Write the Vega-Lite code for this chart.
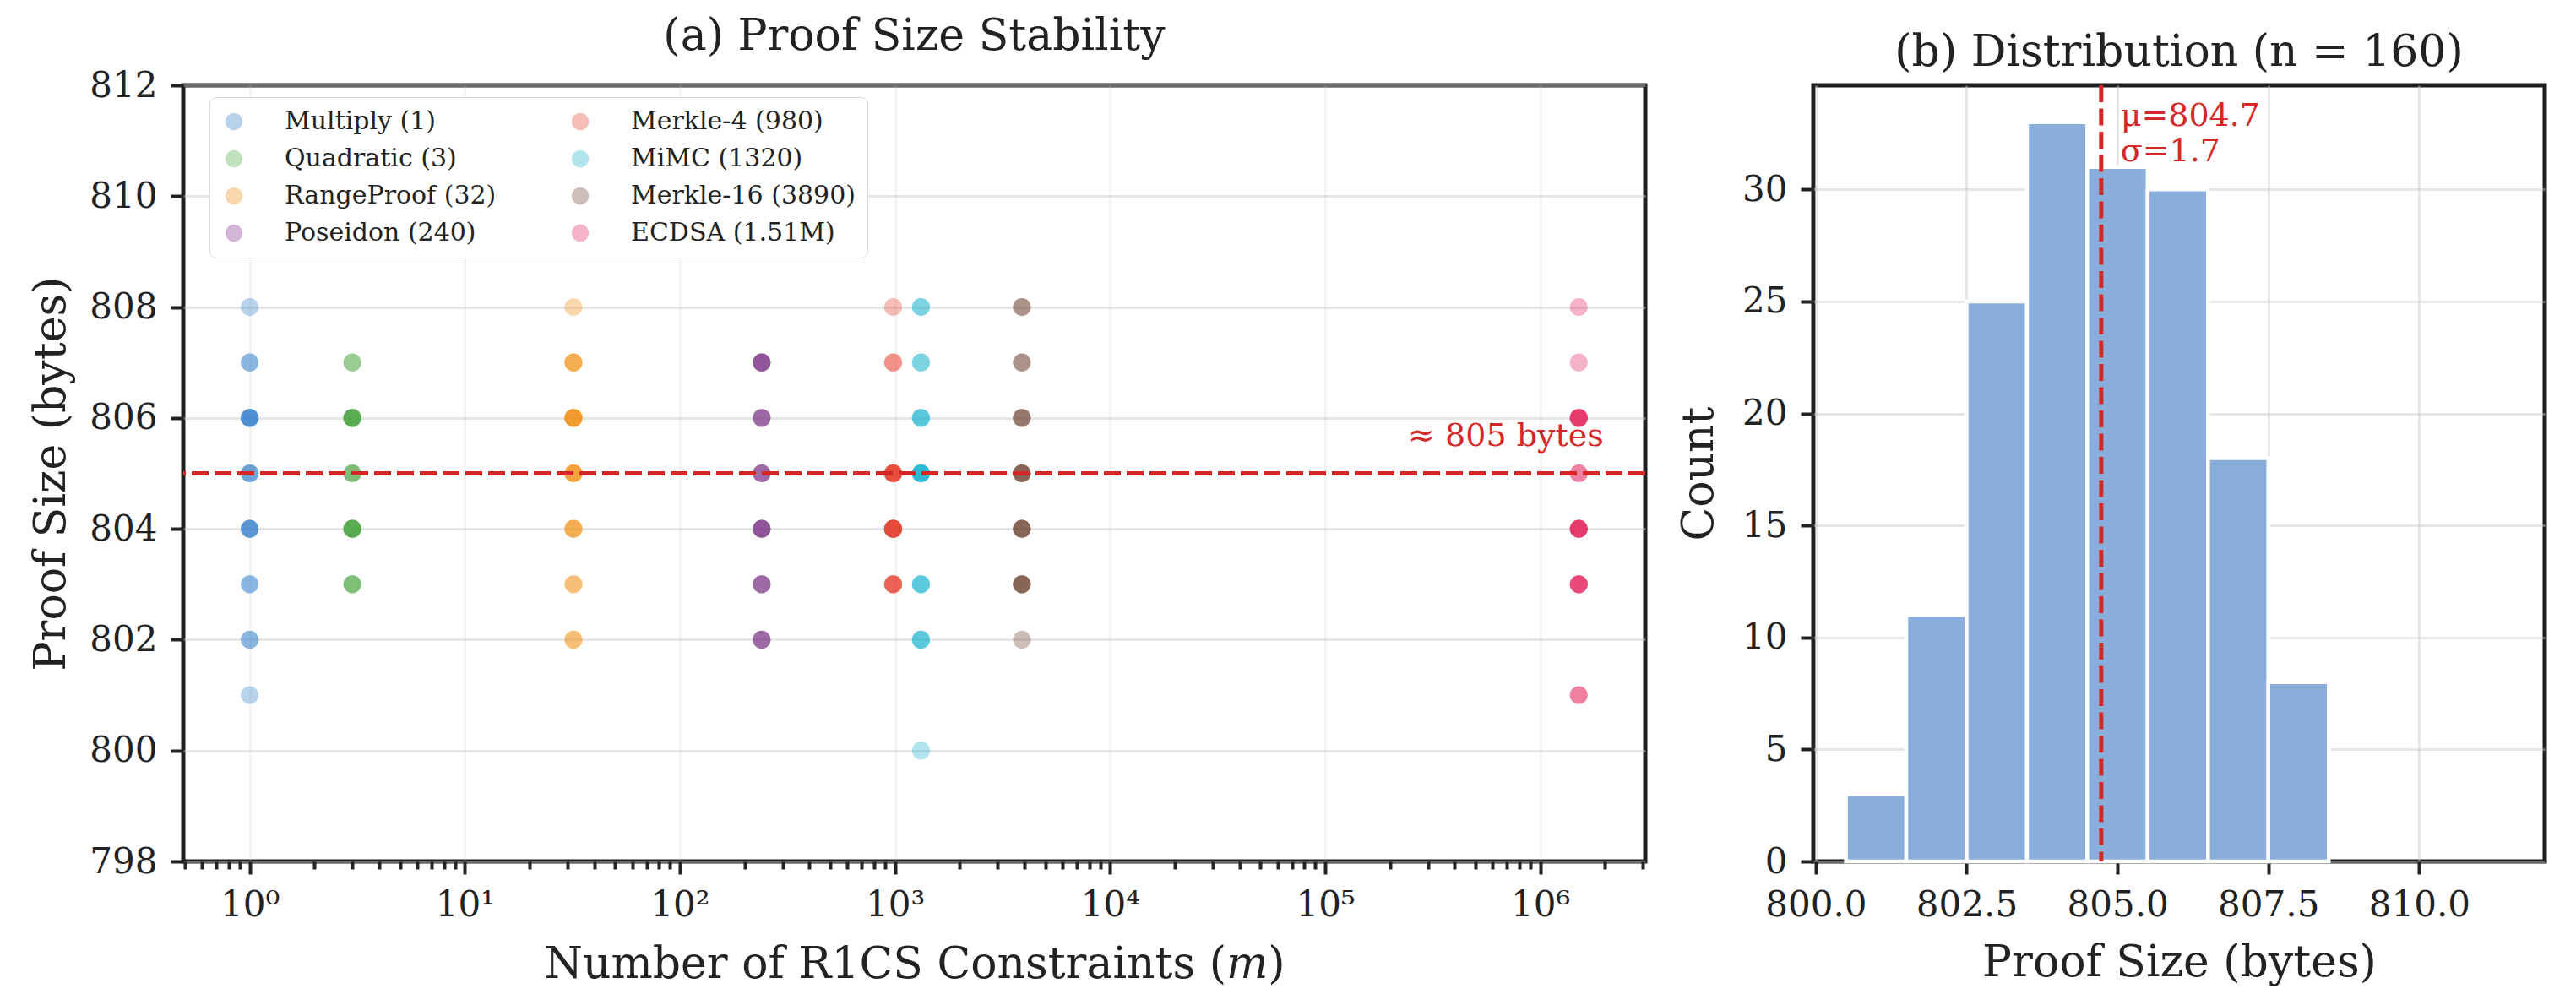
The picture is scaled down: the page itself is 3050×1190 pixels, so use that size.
{
  "$schema": "https://vega.github.io/schema/vega-lite/v6.json",
  "background": "white",
  "padding": {"left": 32, "top": 14, "right": 5, "bottom": 5},
  "config": {
    "font": "DejaVu Serif",
    "view": {"stroke": "#1f1f1f", "strokeWidth": 5},
    "axis": {
      "domain": false,
      "labelFontSize": 42,
      "labelColor": "#222222",
      "titleFontSize": 52,
      "titleFontWeight": "normal",
      "titleColor": "#222222",
      "tickColor": "#222222",
      "tickWidth": 4,
      "tickSize": 15,
      "labelPadding": 16,
      "gridColor": "#c8c8c8",
      "gridOpacity": 0.45,
      "gridWidth": 3,
      "zindex": 1
    },
    "title": {"fontSize": 52, "fontWeight": "normal", "color": "#222222", "offset": 10}
  },
  "resolve": {"legend": {"color": "independent"}},
  "spacing": 30,
  "hconcat": [
    {
      "width": 1731,
      "height": 919,
      "title": {"text": "(a) Proof Size Stability"},
      "data": {
        "values": [
          {"circuit": "Multiply (1)", "m": 1, "bytes": 808},
          {"circuit": "Multiply (1)", "m": 1, "bytes": 807},
          {"circuit": "Multiply (1)", "m": 1, "bytes": 807},
          {"circuit": "Multiply (1)", "m": 1, "bytes": 806},
          {"circuit": "Multiply (1)", "m": 1, "bytes": 806},
          {"circuit": "Multiply (1)", "m": 1, "bytes": 806},
          {"circuit": "Multiply (1)", "m": 1, "bytes": 806},
          {"circuit": "Multiply (1)", "m": 1, "bytes": 806},
          {"circuit": "Multiply (1)", "m": 1, "bytes": 805},
          {"circuit": "Multiply (1)", "m": 1, "bytes": 805},
          {"circuit": "Multiply (1)", "m": 1, "bytes": 805},
          {"circuit": "Multiply (1)", "m": 1, "bytes": 804},
          {"circuit": "Multiply (1)", "m": 1, "bytes": 804},
          {"circuit": "Multiply (1)", "m": 1, "bytes": 804},
          {"circuit": "Multiply (1)", "m": 1, "bytes": 804},
          {"circuit": "Multiply (1)", "m": 1, "bytes": 803},
          {"circuit": "Multiply (1)", "m": 1, "bytes": 803},
          {"circuit": "Multiply (1)", "m": 1, "bytes": 802},
          {"circuit": "Multiply (1)", "m": 1, "bytes": 802},
          {"circuit": "Multiply (1)", "m": 1, "bytes": 801},
          {"circuit": "Quadratic (3)", "m": 3, "bytes": 807},
          {"circuit": "Quadratic (3)", "m": 3, "bytes": 807},
          {"circuit": "Quadratic (3)", "m": 3, "bytes": 806},
          {"circuit": "Quadratic (3)", "m": 3, "bytes": 806},
          {"circuit": "Quadratic (3)", "m": 3, "bytes": 806},
          {"circuit": "Quadratic (3)", "m": 3, "bytes": 806},
          {"circuit": "Quadratic (3)", "m": 3, "bytes": 806},
          {"circuit": "Quadratic (3)", "m": 3, "bytes": 806},
          {"circuit": "Quadratic (3)", "m": 3, "bytes": 805},
          {"circuit": "Quadratic (3)", "m": 3, "bytes": 805},
          {"circuit": "Quadratic (3)", "m": 3, "bytes": 805},
          {"circuit": "Quadratic (3)", "m": 3, "bytes": 804},
          {"circuit": "Quadratic (3)", "m": 3, "bytes": 804},
          {"circuit": "Quadratic (3)", "m": 3, "bytes": 804},
          {"circuit": "Quadratic (3)", "m": 3, "bytes": 804},
          {"circuit": "Quadratic (3)", "m": 3, "bytes": 804},
          {"circuit": "Quadratic (3)", "m": 3, "bytes": 804},
          {"circuit": "Quadratic (3)", "m": 3, "bytes": 803},
          {"circuit": "Quadratic (3)", "m": 3, "bytes": 803},
          {"circuit": "Quadratic (3)", "m": 3, "bytes": 803},
          {"circuit": "RangeProof (32)", "m": 32, "bytes": 808},
          {"circuit": "RangeProof (32)", "m": 32, "bytes": 807},
          {"circuit": "RangeProof (32)", "m": 32, "bytes": 807},
          {"circuit": "RangeProof (32)", "m": 32, "bytes": 807},
          {"circuit": "RangeProof (32)", "m": 32, "bytes": 806},
          {"circuit": "RangeProof (32)", "m": 32, "bytes": 806},
          {"circuit": "RangeProof (32)", "m": 32, "bytes": 806},
          {"circuit": "RangeProof (32)", "m": 32, "bytes": 806},
          {"circuit": "RangeProof (32)", "m": 32, "bytes": 806},
          {"circuit": "RangeProof (32)", "m": 32, "bytes": 805},
          {"circuit": "RangeProof (32)", "m": 32, "bytes": 805},
          {"circuit": "RangeProof (32)", "m": 32, "bytes": 805},
          {"circuit": "RangeProof (32)", "m": 32, "bytes": 805},
          {"circuit": "RangeProof (32)", "m": 32, "bytes": 804},
          {"circuit": "RangeProof (32)", "m": 32, "bytes": 804},
          {"circuit": "RangeProof (32)", "m": 32, "bytes": 804},
          {"circuit": "RangeProof (32)", "m": 32, "bytes": 803},
          {"circuit": "RangeProof (32)", "m": 32, "bytes": 803},
          {"circuit": "RangeProof (32)", "m": 32, "bytes": 802},
          {"circuit": "RangeProof (32)", "m": 32, "bytes": 802},
          {"circuit": "Poseidon (240)", "m": 240, "bytes": 807},
          {"circuit": "Poseidon (240)", "m": 240, "bytes": 807},
          {"circuit": "Poseidon (240)", "m": 240, "bytes": 807},
          {"circuit": "Poseidon (240)", "m": 240, "bytes": 807},
          {"circuit": "Poseidon (240)", "m": 240, "bytes": 806},
          {"circuit": "Poseidon (240)", "m": 240, "bytes": 806},
          {"circuit": "Poseidon (240)", "m": 240, "bytes": 806},
          {"circuit": "Poseidon (240)", "m": 240, "bytes": 805},
          {"circuit": "Poseidon (240)", "m": 240, "bytes": 805},
          {"circuit": "Poseidon (240)", "m": 240, "bytes": 805},
          {"circuit": "Poseidon (240)", "m": 240, "bytes": 804},
          {"circuit": "Poseidon (240)", "m": 240, "bytes": 804},
          {"circuit": "Poseidon (240)", "m": 240, "bytes": 804},
          {"circuit": "Poseidon (240)", "m": 240, "bytes": 804},
          {"circuit": "Poseidon (240)", "m": 240, "bytes": 803},
          {"circuit": "Poseidon (240)", "m": 240, "bytes": 803},
          {"circuit": "Poseidon (240)", "m": 240, "bytes": 803},
          {"circuit": "Poseidon (240)", "m": 240, "bytes": 802},
          {"circuit": "Poseidon (240)", "m": 240, "bytes": 802},
          {"circuit": "Poseidon (240)", "m": 240, "bytes": 802},
          {"circuit": "Merkle-4 (980)", "m": 980, "bytes": 808},
          {"circuit": "Merkle-4 (980)", "m": 980, "bytes": 807},
          {"circuit": "Merkle-4 (980)", "m": 980, "bytes": 807},
          {"circuit": "Merkle-4 (980)", "m": 980, "bytes": 805},
          {"circuit": "Merkle-4 (980)", "m": 980, "bytes": 805},
          {"circuit": "Merkle-4 (980)", "m": 980, "bytes": 805},
          {"circuit": "Merkle-4 (980)", "m": 980, "bytes": 805},
          {"circuit": "Merkle-4 (980)", "m": 980, "bytes": 805},
          {"circuit": "Merkle-4 (980)", "m": 980, "bytes": 805},
          {"circuit": "Merkle-4 (980)", "m": 980, "bytes": 804},
          {"circuit": "Merkle-4 (980)", "m": 980, "bytes": 804},
          {"circuit": "Merkle-4 (980)", "m": 980, "bytes": 804},
          {"circuit": "Merkle-4 (980)", "m": 980, "bytes": 804},
          {"circuit": "Merkle-4 (980)", "m": 980, "bytes": 804},
          {"circuit": "Merkle-4 (980)", "m": 980, "bytes": 804},
          {"circuit": "Merkle-4 (980)", "m": 980, "bytes": 804},
          {"circuit": "Merkle-4 (980)", "m": 980, "bytes": 803},
          {"circuit": "Merkle-4 (980)", "m": 980, "bytes": 803},
          {"circuit": "Merkle-4 (980)", "m": 980, "bytes": 803},
          {"circuit": "Merkle-4 (980)", "m": 980, "bytes": 803},
          {"circuit": "MiMC (1320)", "m": 1320, "bytes": 808},
          {"circuit": "MiMC (1320)", "m": 1320, "bytes": 808},
          {"circuit": "MiMC (1320)", "m": 1320, "bytes": 807},
          {"circuit": "MiMC (1320)", "m": 1320, "bytes": 807},
          {"circuit": "MiMC (1320)", "m": 1320, "bytes": 806},
          {"circuit": "MiMC (1320)", "m": 1320, "bytes": 806},
          {"circuit": "MiMC (1320)", "m": 1320, "bytes": 806},
          {"circuit": "MiMC (1320)", "m": 1320, "bytes": 805},
          {"circuit": "MiMC (1320)", "m": 1320, "bytes": 805},
          {"circuit": "MiMC (1320)", "m": 1320, "bytes": 805},
          {"circuit": "MiMC (1320)", "m": 1320, "bytes": 805},
          {"circuit": "MiMC (1320)", "m": 1320, "bytes": 805},
          {"circuit": "MiMC (1320)", "m": 1320, "bytes": 805},
          {"circuit": "MiMC (1320)", "m": 1320, "bytes": 803},
          {"circuit": "MiMC (1320)", "m": 1320, "bytes": 803},
          {"circuit": "MiMC (1320)", "m": 1320, "bytes": 803},
          {"circuit": "MiMC (1320)", "m": 1320, "bytes": 802},
          {"circuit": "MiMC (1320)", "m": 1320, "bytes": 802},
          {"circuit": "MiMC (1320)", "m": 1320, "bytes": 802},
          {"circuit": "MiMC (1320)", "m": 1320, "bytes": 800},
          {"circuit": "Merkle-16 (3890)", "m": 3890, "bytes": 808},
          {"circuit": "Merkle-16 (3890)", "m": 3890, "bytes": 808},
          {"circuit": "Merkle-16 (3890)", "m": 3890, "bytes": 807},
          {"circuit": "Merkle-16 (3890)", "m": 3890, "bytes": 807},
          {"circuit": "Merkle-16 (3890)", "m": 3890, "bytes": 806},
          {"circuit": "Merkle-16 (3890)", "m": 3890, "bytes": 806},
          {"circuit": "Merkle-16 (3890)", "m": 3890, "bytes": 806},
          {"circuit": "Merkle-16 (3890)", "m": 3890, "bytes": 805},
          {"circuit": "Merkle-16 (3890)", "m": 3890, "bytes": 805},
          {"circuit": "Merkle-16 (3890)", "m": 3890, "bytes": 805},
          {"circuit": "Merkle-16 (3890)", "m": 3890, "bytes": 805},
          {"circuit": "Merkle-16 (3890)", "m": 3890, "bytes": 804},
          {"circuit": "Merkle-16 (3890)", "m": 3890, "bytes": 804},
          {"circuit": "Merkle-16 (3890)", "m": 3890, "bytes": 804},
          {"circuit": "Merkle-16 (3890)", "m": 3890, "bytes": 804},
          {"circuit": "Merkle-16 (3890)", "m": 3890, "bytes": 803},
          {"circuit": "Merkle-16 (3890)", "m": 3890, "bytes": 803},
          {"circuit": "Merkle-16 (3890)", "m": 3890, "bytes": 803},
          {"circuit": "Merkle-16 (3890)", "m": 3890, "bytes": 803},
          {"circuit": "Merkle-16 (3890)", "m": 3890, "bytes": 802},
          {"circuit": "ECDSA (1.51M)", "m": 1510000, "bytes": 808},
          {"circuit": "ECDSA (1.51M)", "m": 1510000, "bytes": 807},
          {"circuit": "ECDSA (1.51M)", "m": 1510000, "bytes": 806},
          {"circuit": "ECDSA (1.51M)", "m": 1510000, "bytes": 806},
          {"circuit": "ECDSA (1.51M)", "m": 1510000, "bytes": 806},
          {"circuit": "ECDSA (1.51M)", "m": 1510000, "bytes": 806},
          {"circuit": "ECDSA (1.51M)", "m": 1510000, "bytes": 806},
          {"circuit": "ECDSA (1.51M)", "m": 1510000, "bytes": 805},
          {"circuit": "ECDSA (1.51M)", "m": 1510000, "bytes": 805},
          {"circuit": "ECDSA (1.51M)", "m": 1510000, "bytes": 804},
          {"circuit": "ECDSA (1.51M)", "m": 1510000, "bytes": 804},
          {"circuit": "ECDSA (1.51M)", "m": 1510000, "bytes": 804},
          {"circuit": "ECDSA (1.51M)", "m": 1510000, "bytes": 804},
          {"circuit": "ECDSA (1.51M)", "m": 1510000, "bytes": 804},
          {"circuit": "ECDSA (1.51M)", "m": 1510000, "bytes": 803},
          {"circuit": "ECDSA (1.51M)", "m": 1510000, "bytes": 803},
          {"circuit": "ECDSA (1.51M)", "m": 1510000, "bytes": 803},
          {"circuit": "ECDSA (1.51M)", "m": 1510000, "bytes": 803},
          {"circuit": "ECDSA (1.51M)", "m": 1510000, "bytes": 801},
          {"circuit": "ECDSA (1.51M)", "m": 1510000, "bytes": 801}
        ]
      },
      "layer": [
        {
          "mark": {"type": "circle", "size": 450, "opacity": 0.35},
          "encoding": {
            "x": {
              "field": "m",
              "type": "quantitative",
              "scale": {"type": "log", "domain": [0.491, 3076000], "nice": false},
              "axis": {
                "title": "Number of R1CS Constraints (𝑚)",
                "titlePadding": 24,
                "values": [0.5, 0.6, 0.7, 0.8, 0.9, 1, 2, 3, 4, 5, 6, 7, 8, 9, 10, 20, 30, 40, 50, 60, 70, 80, 90, 100, 200, 300, 400, 500, 600, 700, 800, 900, 1000, 2000, 3000, 4000, 5000, 6000, 7000, 8000, 9000, 10000, 20000, 30000, 40000, 50000, 60000, 70000, 80000, 90000, 100000, 200000, 300000, 400000, 500000, 600000, 700000, 800000, 900000, 1000000, 2000000, 3000000],
                "labelExpr": "datum.value == 1 ? '10⁰' : datum.value == 10 ? '10¹' : datum.value == 100 ? '10²' : datum.value == 1000 ? '10³' : datum.value == 10000 ? '10⁴' : datum.value == 100000 ? '10⁵' : datum.value == 1000000 ? '10⁶' : ''",
                "labelOverlap": false,
                "labelFlush": false,
                "tickSize": {"condition": {"test": "abs(log(datum.value) / LN10 - round(log(datum.value) / LN10)) < 0.000001", "value": 15}, "value": 9},
                "gridOpacity": {"condition": {"test": "abs(log(datum.value) / LN10 - round(log(datum.value) / LN10)) < 0.000001", "value": 0.45}, "value": 0}
              }
            },
            "y": {
              "field": "bytes",
              "type": "quantitative",
              "scale": {"domain": [798, 812], "nice": false, "zero": false},
              "axis": {"title": "Proof Size (bytes)", "values": [798, 800, 802, 804, 806, 808, 810, 812], "format": "d", "titlePadding": 18}
            },
            "color": {
              "field": "circuit",
              "type": "nominal",
              "scale": {
                "domain": ["Multiply (1)", "Quadratic (3)", "RangeProof (32)", "Poseidon (240)", "Merkle-4 (980)", "MiMC (1320)", "Merkle-16 (3890)", "ECDSA (1.51M)"],
                "range": ["#3680ca", "#4ca744", "#f18f14", "#7b3188", "#e74332", "#1db5cf", "#6f4535", "#e5225b"]
              },
              "legend": {
                "title": null,
                "orient": "none",
                "legendX": 31,
                "legendY": 14,
                "columns": 2,
                "columnPadding": 84,
                "rowPadding": 14,
                "symbolType": "circle",
                "symbolSize": 420,
                "symbolOpacity": 0.35,
                "labelFontSize": 30,
                "labelColor": "#222222",
                "labelOffset": 45,
                "labelLimit": 500,
                "padding": 14,
                "fillColor": "white",
                "strokeColor": "#d9d9d9",
                "cornerRadius": 8,
                "zindex": 2
              }
            }
          }
        },
        {
          "data": {"values": [{}]},
          "mark": {"type": "rule", "color": "#d62728", "strokeWidth": 5, "strokeDash": [20, 7]},
          "encoding": {"y": {"datum": 805}}
        },
        {
          "data": {"values": [{}]},
          "mark": {"type": "text", "color": "#d62728", "fontSize": 38, "align": "right", "baseline": "alphabetic"},
          "encoding": {"x": {"datum": 1970000}, "y": {"datum": 805.5}, "text": {"value": "≈ 805 bytes"}}
        }
      ]
    },
    {
      "width": 866,
      "height": 919,
      "title": {"text": "(b) Distribution (n = 160)"},
      "layer": [
        {
          "data": {
            "values": [
              {"lo": 800.5, "hi": 801.5, "count": 3},
              {"lo": 801.5, "hi": 802.5, "count": 11},
              {"lo": 802.5, "hi": 803.5, "count": 25},
              {"lo": 803.5, "hi": 804.5, "count": 33},
              {"lo": 804.5, "hi": 805.5, "count": 31},
              {"lo": 805.5, "hi": 806.5, "count": 30},
              {"lo": 806.5, "hi": 807.5, "count": 18},
              {"lo": 807.5, "hi": 808.5, "count": 8}
            ]
          },
          "mark": {"type": "rect", "color": "#8aaedc", "stroke": "white", "strokeWidth": 4.5},
          "encoding": {
            "x": {
              "field": "lo",
              "type": "quantitative",
              "scale": {"domain": [799.96, 812.08], "nice": false, "zero": false},
              "axis": {"title": "Proof Size (bytes)", "values": [800, 802.5, 805, 807.5, 810], "format": ".1f", "titlePadding": 22, "labelFlush": false}
            },
            "x2": {"field": "hi"},
            "y": {
              "field": "count",
              "type": "quantitative",
              "scale": {"domain": [0, 34.65], "nice": false},
              "axis": {"title": "Count", "values": [0, 5, 10, 15, 20, 25, 30], "titlePadding": 24}
            },
            "y2": {"datum": 0}
          }
        },
        {
          "data": {"values": [{}]},
          "mark": {"type": "rule", "color": "#d62728", "strokeWidth": 5, "strokeDash": [20, 7.5]},
          "encoding": {"x": {"datum": 804.73}}
        },
        {
          "data": {"values": [{}]},
          "mark": {"type": "text", "color": "#d62728", "fontSize": 38, "align": "left", "baseline": "alphabetic", "lineHeight": 42},
          "encoding": {"x": {"datum": 805.05}, "y": {"datum": 32.85}, "text": {"value": ["μ=804.7", "σ=1.7"]}}
        }
      ]
    }
  ]
}
